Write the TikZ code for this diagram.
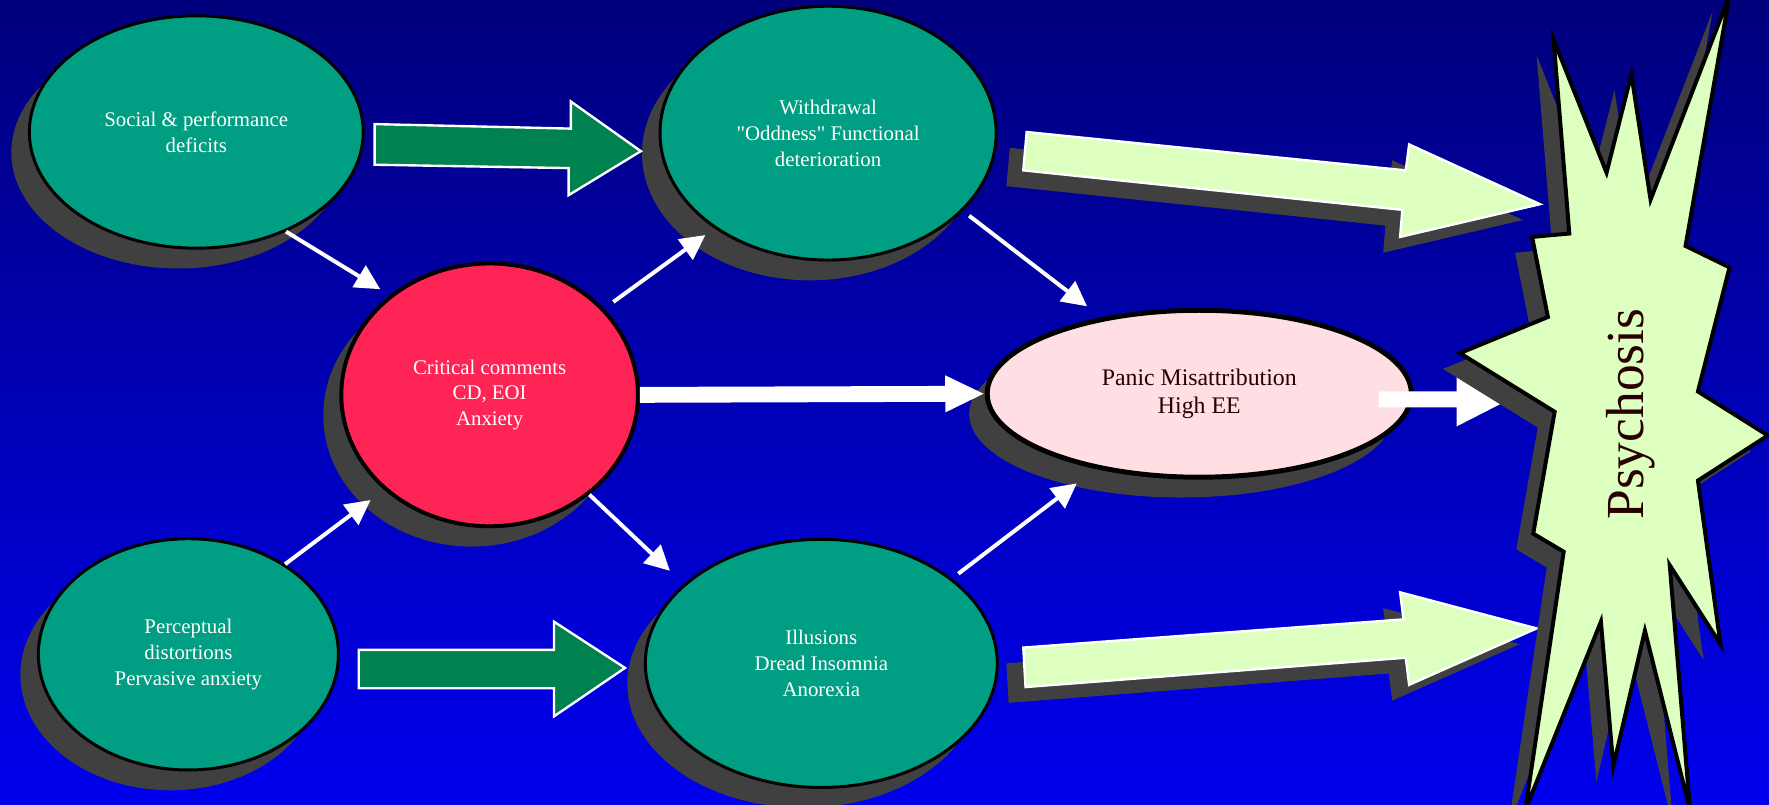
\documentclass[tikz,border=0pt]{standalone}
\usepackage{fontspec}
\setmainfont{Liberation Serif}[Ligatures=TeXOff]
\usetikzlibrary{arrows.meta,shapes.geometric,shadows}
\definecolor{bgtop}{RGB}{0,0,124}
\definecolor{bgbot}{RGB}{0,0,238}
\definecolor{tealfill}{RGB}{0,158,130}
\definecolor{redfill}{RGB}{255,36,86}
\definecolor{pinkfill}{RGB}{255,222,228}
\definecolor{darkgreen}{RGB}{0,130,80}
\definecolor{palegreen}{RGB}{221,255,192}
\definecolor{shadowgrey}{RGB}{64,64,64}
\definecolor{darktext}{RGB}{40,0,0}
\begin{document}
\begin{tikzpicture}[x=0.02cm, y=-0.02cm,
    ovalshadow/.style={drop shadow={shadow xshift=-0.32cm, shadow yshift=-0.36cm, fill=shadowgrey, opacity=1}},
    flatshadow/.style={drop shadow={shadow xshift=-0.3cm, shadow yshift=-0.28cm, fill=shadowgrey, opacity=1}},
    oval/.style={ellipse, draw=black, line width=1.5pt, fill=tealfill, text=white, align=center, inner sep=0pt,
        font=\fontsize{10.5}{13}\selectfont, ovalshadow},
    link/.style={draw=white, line width=2pt, -{Triangle[length=0.44cm, width=0.44cm]}},
    blockarrow/.style={draw=white, line width=1.2pt, line join=miter}]
    \clip (0,0) rectangle (1568,713);
    \shade[top color=bgtop, bottom color=bgbot] (0,0) rectangle (1568,713);
    % ovals
    \node[oval, minimum width=5.92cm, minimum height=4.12cm] (social) at (174,117) {Social \& performance\\deficits};
    \node[oval, minimum width=5.96cm, minimum height=4.5cm] (withdrawal) at (734,118) {Withdrawal\\"Oddness" Functional\\deterioration};
    \node[oval, fill=redfill, line width=2pt, minimum width=5.26cm, minimum height=4.66cm] (critical) at (434,350) {Critical comments\\CD, EOI\\Anxiety};
    \node[oval, fill=pinkfill, text=darktext, line width=2.5pt, minimum width=7.52cm, minimum height=2.96cm,
        font=\fontsize{12}{14}\selectfont] (panic) at (1063,349) {Panic Misattribution\\High EE};
    \node[oval, minimum width=5.32cm, minimum height=4.1cm] (perceptual) at (167,580) {Perceptual\\distortions\\Pervasive anxiety};
    \node[oval, minimum width=6.24cm, minimum height=4.4cm] (illusions) at (728,588) {Illusions\\Dread Insomnia\\Anorexia};
    % block arrows
    \filldraw[blockarrow, fill=darkgreen] (332,110) -- (506,114) -- (506,90) -- (568,134) -- (504,173) -- (504,149) -- (332,146) -- cycle;
    \filldraw[blockarrow, fill=darkgreen] (318,576) -- (491,576) -- (491,551) -- (554,592) -- (491,635) -- (491,610) -- (318,610) -- cycle;
    \filldraw[blockarrow, fill=palegreen, flatshadow] (910,117) -- (1246,151) -- (1249,128) -- (1365,181) -- (1241,210) -- (1243,186) -- (907,151) -- cycle;
    \filldraw[blockarrow, fill=palegreen, flatshadow] (907,574) -- (1244,549) -- (1241,525) -- (1362,557) -- (1249,607) -- (1246,583) -- (909,609) -- cycle;
    \fill[white] (1222,347) -- (1291,347) -- (1291,331) -- (1338,354) -- (1291,378) -- (1291,361) -- (1222,361) -- cycle;
    % burst
    \filldraw[fill=palegreen, draw=black, line width=2pt, line join=miter, flatshadow]
        (1377,35) -- (1424,153) -- (1446,66) -- (1463,177) -- (1533,-4) -- (1494,218) -- (1533,237) -- (1505,347)
        -- (1567,386) -- (1505,426) -- (1525,571) -- (1480,501) -- (1498,718) -- (1458,559) -- (1430,679) -- (1419,551)
        -- (1352,718) -- (1386,489) -- (1359,473) -- (1378,365) -- (1294,313) -- (1372,281) -- (1358,210) -- (1391,207) -- cycle;
    \node[rotate=90, text=darktext, font=\fontsize{27}{30}\selectfont] (psychosis) at (1445,367) {Psychosis};
    % links
    \draw[link, shorten >=0.2cm] (social.-48) -- (critical.135);
    \draw[link, shorten <=0.2cm, shorten >=0.2cm] (critical.37) -- (withdrawal.220);
    \draw[link, shorten <=0.14cm, shorten >=0.32cm] (withdrawal.-30) -- (panic.142);
    \draw[link, shorten >=0.34cm] (critical.-45) -- (illusions.150);
    \draw[link, shorten <=0.14cm, shorten >=0.42cm] (illusions.33) -- (panic.216);
    \draw[link, shorten >=0.3cm] (perceptual.43) -- (critical.222);
    \draw[white, line width=8pt, -{Triangle[length=0.7cm, width=0.6cm]}] (critical.east) -- (panic.west);
\end{tikzpicture}
\end{document}
